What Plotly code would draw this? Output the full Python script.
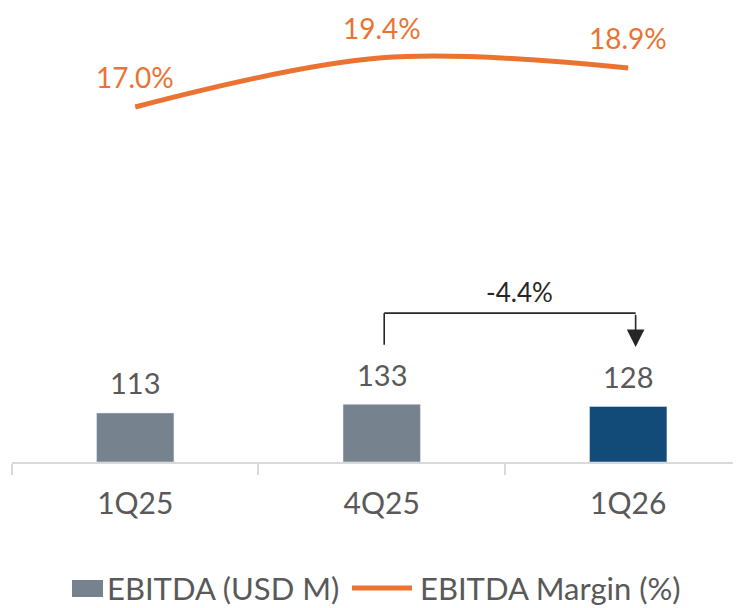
import plotly.graph_objects as go

categories = ["1Q25", "4Q25", "1Q26"]
ebitda = [113, 133, 128]
margin_pct = [17.0, 19.4, 18.9]
bar_colors = ["#76838F", "#76838F", "#124A78"]
change_label = "-4.4%"

FONT = "Lato"
TXT = "#595959"
ORANGE = "#EB7332"

fig = go.Figure()
fig.add_trace(go.Bar(x=categories, y=ebitda, marker_color=bar_colors, width=0.314,
                     name="EBITDA (USD M)", showlegend=False))
fig.add_trace(go.Scatter(x=categories, y=margin_pct, yaxis="y2", mode="lines",
                         line=dict(color=ORANGE, width=5, shape="spline", smoothing=1.0),
                         name="EBITDA Margin (%)", showlegend=False))

ann = []
for c, v in zip(categories, ebitda):
    ann.append(dict(x=c, y=v, xref="x", yref="y", text=str(v), showarrow=False,
                    yshift=30, font=dict(family=FONT, size=29, color=TXT)))
for c, v in zip(categories, margin_pct):
    ann.append(dict(x=c, y=v, xref="x", yref="y2", text=f"{v:.1f}%", showarrow=False,
                    yshift=30, font=dict(family=FONT, size=28, color=ORANGE)))

# change bracket
ann.append(dict(x=2.03, y=265, ax=2.03, ay=343, xref="x", yref="y", axref="x", ayref="y",
                text="", showarrow=True, arrowhead=2, arrowsize=2.2, arrowwidth=1.6,
                arrowcolor="#262626"))
ann.append(dict(x=1.56, y=392, xref="x", yref="y", text=change_label, showarrow=False,
                font=dict(family=FONT, size=26, color="#262626")))

shapes = [
    dict(type="line", xref="x", yref="y", x0=1.01, x1=1.01, y0=270, y1=343,
         line=dict(color="#262626", width=1.6)),
    dict(type="line", xref="x", yref="y", x0=1.01, x1=2.03, y0=343, y1=343,
         line=dict(color="#262626", width=1.6)),
]

# custom legend
shapes.append(dict(type="rect", xref="paper", yref="paper", x0=0.0814, x1=0.1235,
                   y0=-0.2974, y1=-0.2599, fillcolor="#76838F", line=dict(width=0)))
shapes.append(dict(type="line", xref="paper", yref="paper", x0=0.4613, x1=0.5427,
                   y0=-0.2775, y1=-0.2775, line=dict(color=ORANGE, width=5)))
ann.append(dict(x=0.1262, y=-0.2775, xref="paper", yref="paper", xanchor="left", yanchor="middle",
                text="EBITDA (USD M)", showarrow=False, font=dict(family=FONT, size=31, color=TXT)))
ann.append(dict(x=0.5509, y=-0.2775, xref="paper", yref="paper", xanchor="left", yanchor="middle",
                text="EBITDA Margin (%)", showarrow=False, font=dict(family=FONT, size=31, color=TXT)))

fig.update_layout(
    width=741, height=608,
    margin=dict(l=4, r=0, t=0, b=154),
    plot_bgcolor="white", paper_bgcolor="white",
    showlegend=False,
    xaxis=dict(type="category", range=[-0.5, 2.49], showline=True, linecolor="#D9D9D9",
               linewidth=2, ticks="outside", tickson="boundaries", ticklen=11,
               tickcolor="#D9D9D9", tickwidth=2, showgrid=False,
               tickfont=dict(family=FONT, size=30, color=TXT), ticklabelstandoff=14),
    yaxis=dict(range=[0, 1046], visible=False, showgrid=False),
    yaxis2=dict(range=[-0.32, 21.83], overlaying="y", visible=False, showgrid=False),
    annotations=ann, shapes=shapes,
)

fig.write_html("out.html")
